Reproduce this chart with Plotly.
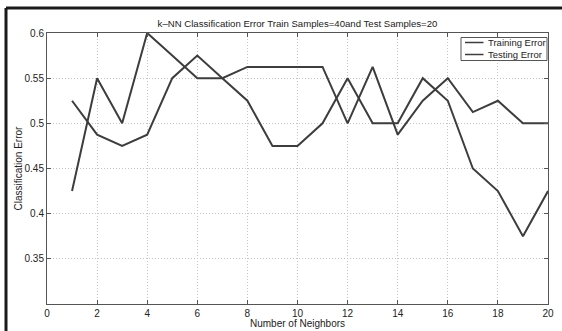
import plotly.graph_objects as go

# ---- data ----
neighbors = list(range(1, 21))
training_error = [0.425, 0.55, 0.5, 0.6, 0.575, 0.55, 0.55, 0.5625, 0.5625, 0.5625,
                  0.5625, 0.5, 0.5625, 0.4875, 0.525, 0.55, 0.5125, 0.525, 0.5, 0.5]
testing_error = [0.525, 0.4875, 0.475, 0.4875, 0.55, 0.575, 0.55, 0.525, 0.475, 0.475,
                 0.5, 0.55, 0.5, 0.5, 0.55, 0.525, 0.45, 0.425, 0.375, 0.425]
series_names = ["Training Error", "Testing Error"]
x_ticks = list(range(0, 21, 2))
y_ticks = [0.35, 0.4, 0.45, 0.5, 0.55, 0.6]
y_tick_labels = ["0.35", "0.4", "0.45", "0.5", "0.55", "0.6"]
x_title = "Number of Neighbors"
y_title = "Classification Error"
chart_title = "k\u2013NN Classification Error Train Samples=40and Test Samples=20"

W, H = 562, 331
L, R, T, B = 47, 548, 33, 304
FONT = "Liberation Sans, Arial, Helvetica, sans-serif"
LINE_COLOR = "#3d3d3d"
TEXT_COLOR = "#222222"
GRID_DASH = "1px,2px"


def px(xp):
    return (xp - L) / (R - L)


def py(yp):
    return (B - yp) / (B - T)


fig = go.Figure()
for name, vals in zip(series_names, [training_error, testing_error]):
    fig.add_trace(go.Scatter(x=neighbors, y=vals, mode="lines", name=name,
                             line=dict(color=LINE_COLOR, width=2),
                             showlegend=False, hoverinfo="skip"))

shapes = [
    # outer figure frame (left and top edges visible)
    dict(type="line", xref="paper", yref="paper", x0=px(6), x1=px(6), y0=py(8), y1=py(400),
         line=dict(color="#1a1a1a", width=3)),
    dict(type="line", xref="paper", yref="paper", x0=px(6), x1=px(700), y0=py(8), y1=py(8),
         line=dict(color="#1a1a1a", width=3)),
    # legend box
    dict(type="rect", xref="paper", yref="paper", x0=px(461), x1=px(547), y0=py(60.5), y1=py(37.5),
         line=dict(color="#555555", width=1), fillcolor="white", layer="above"),
]
annotations = [
    dict(xref="paper", yref="paper", x=0.5, y=py(323), text=x_title, showarrow=False,
         xanchor="center", yanchor="middle", font=dict(family=FONT, size=10, color=TEXT_COLOR)),
    dict(xref="paper", yref="paper", x=px(18), y=0.5, text=y_title, showarrow=False,
         textangle=-90, xanchor="center", yanchor="middle",
         font=dict(family=FONT, size=10, color=TEXT_COLOR)),
]
for i, name in enumerate(series_names):
    yy = 42.5 + 12 * i
    shapes.append(dict(type="line", xref="paper", yref="paper", x0=px(465), x1=px(483.5),
                       y0=py(yy), y1=py(yy), line=dict(color=LINE_COLOR, width=1.5), layer="above"))
    annotations.append(dict(xref="paper", yref="paper", x=px(485.5), y=py(yy), text=name,
                            showarrow=False, xanchor="left", yanchor="middle",
                            font=dict(family=FONT, size=9.5, color=TEXT_COLOR)))

fig.update_layout(
    width=W, height=H, autosize=False,
    margin=dict(l=L, r=W - R, t=T, b=H - B, pad=0, autoexpand=False),
    paper_bgcolor="white", plot_bgcolor="white",
    font=dict(family=FONT, size=10, color=TEXT_COLOR),
    title=dict(text=chart_title, x=297.5 / W, xanchor="center",
               y=1 - 23.5 / H, yanchor="middle", yref="container",
               font=dict(family=FONT, size=9.6, color=TEXT_COLOR)),
    shapes=shapes, annotations=annotations,
    showlegend=False,
)
fig.update_xaxes(range=[0, 20], tickvals=x_ticks, ticks="inside", ticklen=4,
                 tickcolor="#555555", showline=True, linecolor="#555555", linewidth=1,
                 mirror="ticks", showgrid=True, gridcolor="#c4c4c4", griddash=GRID_DASH,
                 gridwidth=1, zeroline=False, automargin=False,
                 tickfont=dict(family=FONT, size=10, color=TEXT_COLOR))
fig.update_yaxes(range=[0.3, 0.6], tickvals=y_ticks, ticktext=y_tick_labels, ticks="inside",
                 ticklen=4, tickcolor="#555555", showline=True, linecolor="#555555",
                 linewidth=1, mirror="ticks", showgrid=True, gridcolor="#c4c4c4",
                 griddash=GRID_DASH, gridwidth=1, zeroline=False, automargin=False,
                 tickfont=dict(family=FONT, size=10, color=TEXT_COLOR))

fig.write_html("out.html", config={"displayModeBar": False, "staticPlot": True})

# remove the default page margin so the figure sits at the window origin
with open("out.html", "r", encoding="utf-8") as f:
    html = f.read()
html = html.replace("<body>", "<body style=\"margin:0;padding:0;overflow:hidden\">", 1)
with open("out.html", "w", encoding="utf-8") as f:
    f.write(html)
